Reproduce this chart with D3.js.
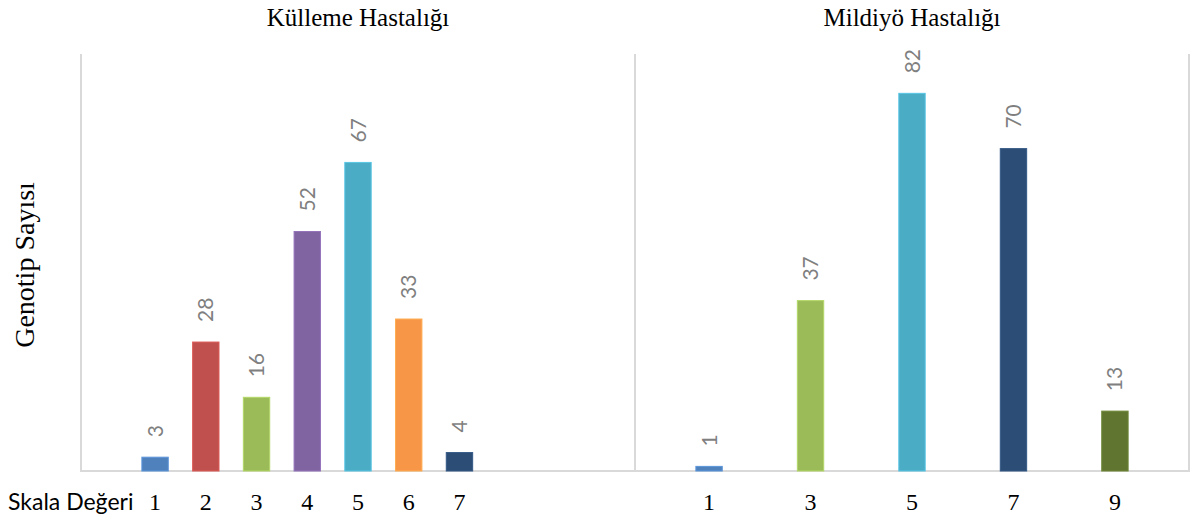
<!DOCTYPE html>
<html><head><meta charset="utf-8">
<script src="https://cdn.jsdelivr.net/npm/d3@7/dist/d3.min.js"></script>
<style>body{margin:0;background:#fff}svg{display:block}</style>
</head><body>
<svg id="chart" width="1194" height="521"></svg>
<script>
// ---- data ----
const slotCategories = ["1","2","3","4","5","6","7","8","9"];
const kullemeTitle = "Külleme Hastalığı";
const kullemeCategories = ["1","2","3","4","5","6","7"];
const kullemeValues = [3, 28, 16, 52, 67, 33, 4];
const kullemeColors = ["#4F81BD","#C0504D","#9BBB59","#8064A2","#4BACC6","#F79646","#2C4D75"];
const mildiyoTitle = "Mildiyö Hastalığı";
const mildiyoCategories = ["1","3","5","7","9"];
const mildiyoValues = [1, 37, 82, 70, 13];
const mildiyoColors = ["#4F81BD","#9BBB59","#4BACC6","#2C4D75","#5F7530"];
const yMax = 90;
const yTitle = "Genotip Sayısı";
const xTitle = "Skala Değeri";

const svg = d3.select("#chart");
const plotTop = 54, plotBase = 471;
const panels = [
  {x0: 81, x1: 635, title: kullemeTitle, cats: kullemeCategories, vals: kullemeValues, cols: kullemeColors},
  {x0: 635, x1: 1189, title: mildiyoTitle, cats: mildiyoCategories, vals: mildiyoValues, cols: mildiyoColors}
];
const y = d3.scaleLinear().domain([0, yMax]).range([plotBase, plotTop + 2.5]);

// frame
const frame = svg.append("g").attr("stroke", "#d9d9d9").attr("stroke-width", 2).attr("fill", "none");
[81, 635, 1189].forEach(xx => frame.append("line").attr("x1", xx).attr("x2", xx).attr("y1", plotTop).attr("y2", plotBase));
frame.append("line").attr("x1", 80).attr("x2", 1190).attr("y1", plotBase).attr("y2", plotBase);

panels.forEach(p => {
  const x = d3.scaleBand().domain(slotCategories).range([p.x0, p.x1]).paddingInner(0.48).paddingOuter(1.2);
  const data = p.cats.map((c, i) => ({c, v: p.vals[i], col: p.cols[i]}));
  const g = svg.append("g");
  g.selectAll("rect").data(data).join("rect")
    .attr("x", d => x(d.c)).attr("width", x.bandwidth())
    .attr("y", d => y(d.v)).attr("height", d => plotBase - y(d.v))
    .attr("fill", d => d.col)
    .attr("stroke", d => d3.color(d.col).brighter(0.4)).attr("stroke-width", 1);
  g.selectAll("text.lbl").data(data).join("text").attr("class", "lbl")
    .attr("transform", d => `translate(${x(d.c) + x.bandwidth() / 2},${y(d.v) - 20}) rotate(-90)`)
    .attr("dy", "0.36em").attr("text-anchor", "start")
    .attr("fill", "#7f7f7f").attr("font-family", "Lato, 'Open Sans', sans-serif").attr("font-size", 21)
    .text(d => d.v);
  // title
  svg.append("text").attr("x", (p.x0 + p.x1) / 2).attr("y", 26).attr("text-anchor", "middle")
    .attr("font-family", "'Liberation Serif', 'Times New Roman', serif").attr("font-size", 25).attr("fill", "#000")
    .text(p.title);
  // axis
  const ax = svg.append("g").attr("transform", `translate(0,${plotBase})`)
    .call(d3.axisBottom(x).tickValues(p.cats).tickSize(0));
  ax.select(".domain").remove();
  ax.selectAll("text").attr("y", 39).attr("dy", null)
    .attr("font-family", "'Liberation Serif', 'Times New Roman', serif").attr("font-size", 24).attr("fill", "#000");
});

// axis titles
svg.append("text").attr("transform", "translate(24,265) rotate(-90)").attr("dy", "0.35em")
  .attr("text-anchor", "middle").attr("font-family", "'Liberation Serif', 'Times New Roman', serif")
  .attr("font-size", 28).attr("fill", "#000").text(yTitle);
svg.append("text").attr("x", 8).attr("y", 510).attr("font-family", "Lato, 'Open Sans', sans-serif")
  .attr("font-size", 23).attr("fill", "#000").text(xTitle);
</script>
</body></html>
